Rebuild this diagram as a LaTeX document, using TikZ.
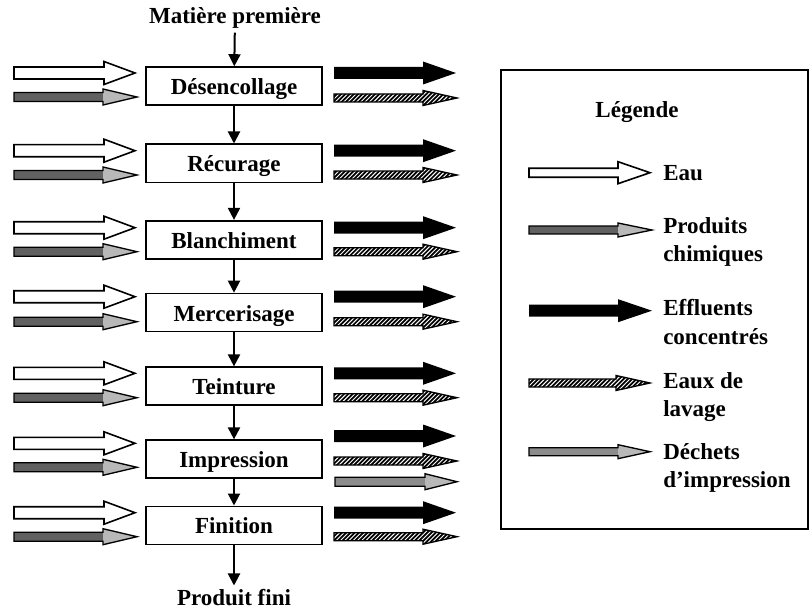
\documentclass[tikz,border=0pt]{standalone}
\usepackage{fontspec}
\setmainfont{Liberation Serif}
\usetikzlibrary{arrows.meta,patterns}

% diagonal hatching for rinse water
\pgfdeclarepatternformonly{hatchx}{\pgfqpoint{-1pt}{-1pt}}{\pgfqpoint{4pt}{4pt}}{\pgfqpoint{3.2pt}{3.2pt}}{%
  \pgfsetlinewidth{1.3pt}%
  \pgfpathmoveto{\pgfqpoint{0pt}{0pt}}%
  \pgfpathlineto{\pgfqpoint{3.3pt}{3.3pt}}%
  \pgfusepath{stroke}}

\tikzset{
  x=0.75pt, y=-0.75pt,
  every node/.style={font=\bfseries\fontsize{17.25pt}{21.5pt}\selectfont},
  stepbox/.style={draw, line width=1.2pt, minimum width=132pt, minimum height=28.5pt,
    inner sep=0pt, text height=14.5pt, text depth=1.5pt},
  label/.style={inner sep=3pt},
  flow/.style={line width=1.5pt, -{Triangle[length=9pt,width=9pt]}},
  legtext/.style={align=left, anchor=west, inner sep=0pt},
  water/.style={draw, line width=1.2pt, fill=white},
  effl/.style={fill=black},
  rinse/.style={draw, line width=1pt, pattern=hatchx},
  % block arrow: style / length / shaft / head height / head length
  pics/blockarrow/.style args={#1/#2/#3/#4/#5}{code={
    \path[#1] (0,-#3/2) -- ({#2-#5},-#3/2) -- ({#2-#5},-#4/2) -- (#2,0)
      -- ({#2-#5},#4/2) -- ({#2-#5},#3/2) -- (0,#3/2) -- cycle;
  }},
  % dotted block arrow: shaded shaft, lighter head
  % shaft shade / length / shaft / head height / head length
  pics/dotarrow/.style args={#1/#2/#3/#4/#5}{code={
    \path[fill=black!#1] (0,-#3/2) rectangle ({#2-#5},#3/2);
    \path[fill=black!28] ({#2-#5},-#4/2) -- (#2,0) -- ({#2-#5},#4/2) -- cycle;
    \draw[line width=1pt] (0,-#3/2) -- ({#2-#5},-#3/2) -- ({#2-#5},-#4/2) -- (#2,0)
      -- ({#2-#5},#4/2) -- ({#2-#5},#3/2) -- (0,#3/2) -- cycle;
  }},
}

\begin{document}
\begin{tikzpicture}
\useasboundingbox (0,0) rectangle (811,610);

% process chain
\node[label] (mp) at (235,18) {Matière première};
\node[stepbox] (d1) at (234,86)    {Désencollage};
\node[stepbox] (d2) at (234,163.3) {Récurage};
\node[stepbox] (d3) at (234,239.7) {Blanchiment};
\node[stepbox] (d4) at (234,312.5) {Mercerisage};
\node[stepbox] (d5) at (234,386.2) {Teinture};
\node[stepbox] (d6) at (234,459.2) {Impression};
\node[stepbox] (d7) at (234,525.3) {Finition};
\node[label] (pf) at (234,598) {Produit fini};

\draw[flow] (mp) -- (d1);
\draw[flow] (d1) -- (d2);
\draw[flow] (d2) -- (d3);
\draw[flow] (d3) -- (d4);
\draw[flow] (d4) -- (d5);
\draw[flow] (d5) -- (d6);
\draw[flow] (d6) -- (d7);
\draw[flow] (d7) -- (pf);

% inputs (water, chemicals) and outputs (effluents, rinse water)
\foreach \ya/\yb in {73/97, 150.7/175, 227.7/251.7, 296.7/321.7, 373.3/397.7, 443.3/467.3, 512.7/536.7}{
  \pic at (14,\ya) {blockarrow=water/121/12/23/31};
  \pic at (14,\yb) {dotarrow=62/123/9/16/34};
}
\foreach \ya/\yb in {73/98, 150.7/175, 227.7/251.7, 296.7/321.7, 373.3/397.7, 512.7/536.7}{
  \pic at (334,\ya) {blockarrow=effl/122/12/23/33};
  \pic at (334,\yb) {blockarrow=rinse/123/8/15/34};
}
\pic at (334,436)   {blockarrow=effl/122/12/23/33};
\pic at (334,461)   {blockarrow=rinse/123/8/15/34};
\pic at (335,481.7) {dotarrow=45/122/9/16/32};

% legend
\draw[line width=1.5pt] (501,70) rectangle (808,529);
\node (lt) at (637,112) {Légende};
\pic at (529,172.7) {blockarrow=water/121/9/22/32};
\node[legtext] (l1) at (663,173) {Eau};
\pic at (529,230) {dotarrow=62/123/8/14/34};
\node[legtext] (l2) at (663,242) {Produits\\chimiques};
\pic at (529,310.7) {blockarrow=effl/123/12/23/34};
\node[legtext] (l3) at (663,322) {Effluents\\concentrés};
\pic at (529,383) {blockarrow=rinse/121/8/15/34};
\node[legtext] (l4) at (663,397) {Eaux de\\lavage};
\pic at (529,451.7) {dotarrow=45/121/8/14/32};
\node[legtext] (l5) at (663,468) {Déchets\\d’impression};
\end{tikzpicture}
\end{document}
